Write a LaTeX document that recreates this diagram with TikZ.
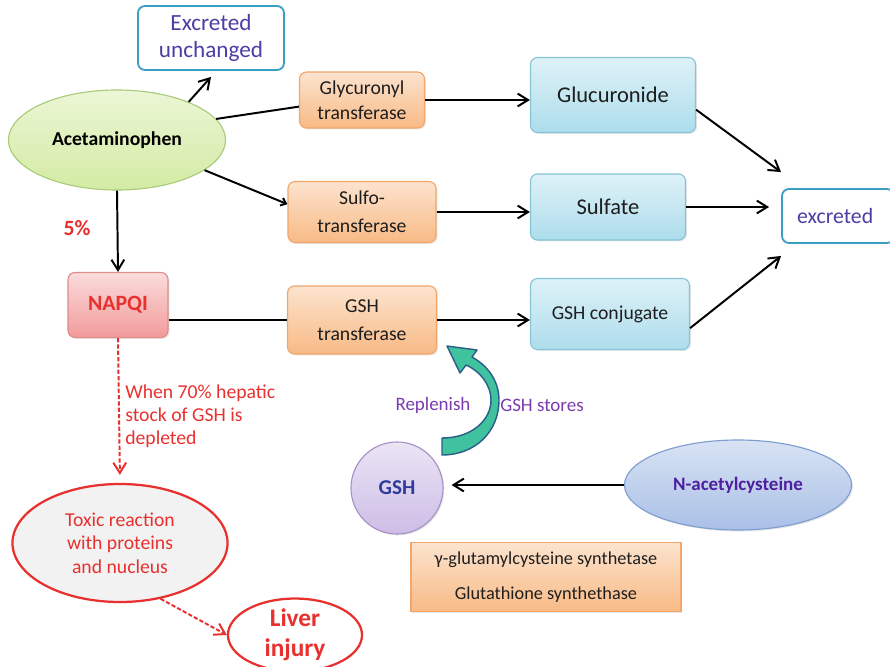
\documentclass[tikz,border=0pt]{standalone}
\usepackage{fontspec}
\setmainfont{Carlito}
\usetikzlibrary{shapes.geometric, arrows.meta, positioning, shadows}

\definecolor{greenfill}{HTML}{D3EBA3}
\definecolor{greenline}{HTML}{A9CB7A}
\definecolor{orangefill}{HTML}{F8BA85}
\definecolor{orangeline}{HTML}{F2A66A}
\definecolor{bluefill}{HTML}{ADDDEC}
\definecolor{blueline}{HTML}{86C5D8}
\definecolor{napqifill}{HTML}{F29A9A}
\definecolor{napqiline}{HTML}{E08C8C}
\definecolor{toxred}{HTML}{E8302E}
\definecolor{tealline}{HTML}{3A9FC1}
\definecolor{excrtext}{HTML}{4B3FA6}
\definecolor{gshfill}{HTML}{CDBDE6}
\definecolor{gshline}{HTML}{A890C8}
\definecolor{gshtext}{HTML}{2E3B9B}
\definecolor{nacfill}{HTML}{A9C0E6}
\definecolor{nacline}{HTML}{7E9ED0}
\definecolor{nactext}{HTML}{4F1FA0}
\definecolor{replentext}{HTML}{7A3AB0}
\definecolor{arrowfill}{HTML}{3FC29D}
\definecolor{arrowline}{HTML}{2B5C8A}
\definecolor{labeltext}{HTML}{1E1E1E}

\begin{document}
\begin{tikzpicture}[
    % one unit is one pixel of the reference
    x=0.025cm, y=-0.025cm,
    % Style for the enzyme boxes
    enzyme/.style={
        rectangle,
        rounded corners=5pt,
        draw=orangeline,
        thick,
        top color=orangefill!40!white,
        bottom color=orangefill,
        drop shadow={opacity=0.2, shadow xshift=1pt, shadow yshift=-1pt},
        text=labeltext,
        align=center,
        inner sep=0pt,
        font=\fontsize{14}{18}\selectfont
    },
    % Style for the conjugate boxes
    product/.style={
        rectangle,
        rounded corners=5pt,
        draw=blueline,
        thick,
        top color=bluefill!40!white,
        bottom color=bluefill,
        drop shadow={opacity=0.2, shadow xshift=1pt, shadow yshift=-1pt},
        text=labeltext,
        align=center,
        inner sep=0pt,
        font=\fontsize{16}{19}\selectfont
    },
    % Style for the excretion boxes
    outbox/.style={
        rectangle,
        rounded corners=5pt,
        draw=tealline,
        line width=1.3pt,
        fill=white,
        text=excrtext,
        align=center,
        inner sep=0pt,
        font=\fontsize{16.5}{19}\selectfont
    },
    % Style for the ellipses
    blob/.style={
        ellipse,
        thick,
        inner sep=0pt,
        align=center
    },
    % Style for the connections
    flow/.style={
        draw=black,
        line width=1.4pt,
        -{Straight Barb[length=2.6mm, width=3.2mm]}
    },
    toxflow/.style={
        draw=toxred,
        line width=1.4pt,
        dash pattern=on 3pt off 1.5pt,
        -{Straight Barb[length=2.6mm, width=3.2mm]}
    }
]

\useasboundingbox (0,0) rectangle (890,666);
\clip (0,0) rectangle (890,666);

% 1. Place the nodes at their coordinates
\node[blob, draw=greenline, top color=greenfill!45!white, bottom color=greenfill,
      minimum width=5.425cm, minimum height=2.5cm,
      font=\bfseries\fontsize{14}{17}\selectfont] (acet) at (117,140) {Acetaminophen};
\node[outbox, minimum width=3.65cm, minimum height=1.6cm] (unchanged) at (211,38) {Excreted\\unchanged};
\node[enzyme, minimum width=3.125cm, minimum height=1.4cm] (glyc) at (362,100) {Glycuronyl\\transferase};
\node[enzyme, minimum width=3.7cm, minimum height=1.525cm] (sulfo) at (362,212) {Sulfo-\\[2pt]transferase};
\node[enzyme, minimum width=3.725cm, minimum height=1.7cm] (gshtr) at (362,320) {GSH\\[2pt]transferase};
\node[product, minimum width=4.125cm, minimum height=1.875cm] (gluc) at (613,95) {Glucuronide};
\node[product, minimum width=3.875cm, minimum height=1.65cm] (sulfate) at (608,207) {Sulfate};
\node[product, minimum width=3.975cm, minimum height=1.775cm,
      font=\fontsize{14}{17}\selectfont] (conj) at (610,314) {GSH conjugate};
\node[outbox, minimum width=2.8cm, minimum height=1.35cm,
      font=\fontsize{15.5}{18}\selectfont] (excr) at (838,216) {\hspace*{-4pt}excreted};
\node[rectangle, rounded corners=5pt, draw=napqiline, thick,
      top color=napqifill!35!white, bottom color=napqifill,
      drop shadow={opacity=0.2, shadow xshift=1pt, shadow yshift=-1pt},
      minimum width=2.5cm, minimum height=1.625cm, inner sep=0pt,
      text=toxred, font=\bfseries\fontsize{15.5}{18}\selectfont] (napqi) at (118,305) {NAPQI};
\node[text=toxred, font=\bfseries\fontsize{15.5}{18}\selectfont] (pct) at (77,228) {5\%};
\node[anchor=north west, inner sep=0pt, text=toxred, align=left,
      font=\fontsize{14}{16.3}\selectfont] (depleted) at (125,385)
      {When 70\% hepatic\\stock of GSH is\\depleted};
\node[blob, draw=toxred, line width=1.6pt, fill=black!5,
      minimum width=5.375cm, minimum height=2.95cm, text=toxred,
      font=\fontsize{14}{16.7}\selectfont] (toxic) at (120,543)
      {Toxic reaction\\with proteins\\and nucleus};
\node[blob, draw=toxred, line width=1.6pt, fill=white,
      minimum width=3.35cm, minimum height=1.5cm, text=toxred,
      font=\bfseries\fontsize{18}{21}\selectfont] (liver) at (295,635) {Liver\\injury};
\node[circle, draw=gshline, thick, top color=gshfill!40!white, bottom color=gshfill,
      drop shadow={opacity=0.2, shadow xshift=1pt, shadow yshift=-1pt},
      minimum size=2.3cm, inner sep=0pt, text=gshtext,
      font=\bfseries\fontsize{15}{18}\selectfont] (gsh) at (397,488) {GSH};
\node[blob, draw=nacline, top color=nacfill!45!white, bottom color=nacfill,
      drop shadow={opacity=0.2, shadow xshift=1pt, shadow yshift=-1pt},
      minimum width=5.675cm, minimum height=2.25cm, text=nactext,
      font=\bfseries\fontsize{13.5}{16}\selectfont] (nac) at (738,485) {N-acetylcysteine};
\node[rectangle, draw=orangeline, thick, top color=orangefill!40!white, bottom color=orangefill,
      drop shadow={opacity=0.2, shadow xshift=1pt, shadow yshift=-1pt},
      minimum width=6.75cm, minimum height=1.725cm, inner sep=0pt, align=center,
      text=labeltext, font=\fontsize{13}{25}\selectfont] (synth) at (546,577)
      {γ-glutamylcysteine synthetase\\Glutathione synthethase};
\node[text=replentext, font=\fontsize{13.5}{16}\selectfont] (replenish) at (433,405) {Replenish};
\node[text=replentext, font=\fontsize{13.5}{16}\selectfont] (stores) at (542,405) {GSH stores};

% 2. Draw the arrows
\draw[flow] (acet.28) -- ([yshift=-0.15cm]unchanged.south);
\draw[line width=1.4pt] (acet.12) -- (glyc.186);
\draw[flow, -{Straight Barb[length=1.2mm, width=2mm]}] (acet.-19) -- (sulfo.174);
\draw[flow] (glyc.east) -- (gluc.west |- glyc.east);
\draw[flow] (sulfo.east) -- (sulfate.west |- sulfo.east);
\draw[flow] (gshtr.east) -- (conj.west |- gshtr.east);
\draw[line width=1.4pt] (napqi.east |- gshtr) -- (gshtr.west);
\draw[flow] (acet.south) -- (napqi.north);

% arrows into the excretion box
\draw[flow] (gluc.-10) -- ([yshift=0.4cm]excr.north west);
\draw[flow, shorten >=0.3cm] (sulfate.east) -- (excr.west |- sulfate.east);
\draw[flow] (conj.-10) -- ([yshift=-0.3cm]excr.south west);

% toxic branch
\draw[toxflow, shorten >=0.2cm] (napqi.south) -- (toxic.north);
\draw[toxflow] (toxic.-54) -- (liver.west);

% GSH refill
\draw[flow, shorten >=0.2cm] (nac.west) -- (gsh.east |- nac.west);
\fill[arrowfill, draw=arrowline, line width=1pt, line join=round]
    (442,438) .. controls (472,438) and (491,420) .. (491,400)
    .. controls (491,385) and (480,371) .. (466,365)
    -- (460,373) -- (447,346) -- (477,350) -- (472,357)
    .. controls (490,367) and (499,383) .. (499,400)
    .. controls (499,432) and (475,455) .. (442,455) -- cycle;

\end{tikzpicture}
\end{document}
